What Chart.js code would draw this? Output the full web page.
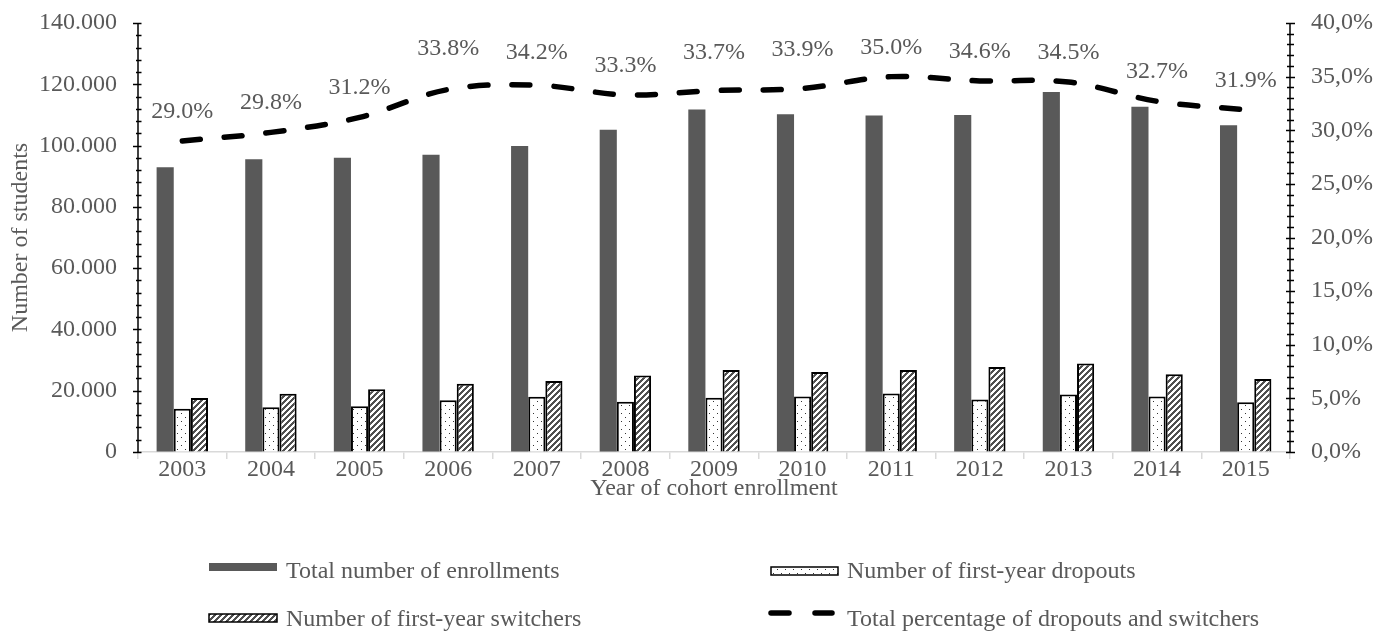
<!DOCTYPE html>
<html>
<head>
<meta charset="utf-8">
<script src="https://cdn.jsdelivr.net/npm/chart.js@4.4.1/dist/chart.umd.min.js"></script>
<style>
html,body{margin:0;padding:0;background:#fff;}
#wrap{width:1384px;height:635px;position:relative;}
</style>
</head>
<body>
<div id="wrap"><canvas id="c" width="1384" height="635"></canvas></div>
<script>
const years = ['2003','2004','2005','2006','2007','2008','2009','2010','2011','2012','2013','2014','2015'];
const enrollments = [92900, 95500, 96000, 97000, 99900, 105200, 111800, 110200, 109800, 110000, 117500, 112700, 106600];
const dropouts = [14100, 14600, 14900, 16900, 18000, 16400, 17700, 18100, 19100, 17100, 18800, 18100, 16200];
const switchers = [17600, 19000, 20500, 22300, 23200, 25000, 26800, 26100, 26800, 27700, 28900, 25400, 23800];
const percentages = [29.0, 29.8, 31.2, 33.8, 34.2, 33.3, 33.7, 33.9, 35.0, 34.6, 34.5, 32.7, 31.9];
const leftTicks = [0, 20000, 40000, 60000, 80000, 100000, 120000, 140000];
const rightTicks = [0, 5, 10, 15, 20, 25, 30, 35, 40];
const seriesNames = ['Total number of enrollments', 'Number of first-year dropouts', 'Number of first-year switchers', 'Total percentage of dropouts and switchers'];

const FONT = "'Liberation Serif', 'Times New Roman', serif";
const TXT = '#595959';
const FS = 24;

function makeDots() {
  const c = document.createElement('canvas'); c.width = 8; c.height = 8;
  const x = c.getContext('2d');
  x.fillStyle = '#fff'; x.fillRect(0,0,8,8);
  x.fillStyle = '#333';
  x.fillRect(1,1,1,1); x.fillRect(5,5,1,1);
  return x.createPattern(c, 'repeat');
}
function makeStripes() {
  const n = 6;
  const c = document.createElement('canvas'); c.width = n; c.height = n;
  const x = c.getContext('2d');
  const img = x.createImageData(n, n);
  for (let yy = 0; yy < n; yy++) for (let xx = 0; xx < n; xx++) {
    const d = ((xx + yy) % n) < 3;
    const i = (yy*n + xx)*4;
    const v = d ? 0x50 : 0xff;
    img.data[i]=v; img.data[i+1]=v; img.data[i+2]=v; img.data[i+3]=255;
  }
  x.putImageData(img, 0, 0);
  return x.createPattern(c, 'repeat');
}
const dotPat = makeDots();
const stripePat = makeStripes();

function fmtThousands(v) {
  if (v === 0) return '0';
  const k = Math.floor(v / 1000);
  const r = String(v % 1000).padStart(3, '0');
  return k + '.' + r;
}

const axesPlugin = {
  id: 'axesPlugin',
  afterDatasetsDraw(chart, args, opts) {
    const ctx = chart.ctx;
    const ca = chart.chartArea;
    const y = chart.scales.y, y1 = chart.scales.y1;
    ctx.save();
    ctx.strokeStyle = '#000';
    ctx.lineWidth = 1.5;
    ctx.beginPath();
    ctx.moveTo(ca.left, y.getPixelForValue(140000)); ctx.lineTo(ca.left, y.getPixelForValue(0));
    ctx.stroke();
    for (let v = 0; v <= 140000; v += 4000) {
      const p = Math.round(y.getPixelForValue(v)) + 0.5;
      const major = v % 20000 === 0;
      ctx.beginPath();
      ctx.moveTo(ca.left - (major ? 5 : 2), p); ctx.lineTo(ca.left + 3.5, p);
      ctx.stroke();
    }
    ctx.beginPath();
    ctx.moveTo(ca.right, y1.getPixelForValue(40)); ctx.lineTo(ca.right, y1.getPixelForValue(0));
    ctx.stroke();
    for (let v = 0; v <= 40; v += 1) {
      const p = Math.round(y1.getPixelForValue(v)) + 0.5;
      const major = v % 5 === 0;
      ctx.beginPath();
      ctx.moveTo(ca.right - (major ? 4 : 3), p); ctx.lineTo(ca.right + (major ? 5 : 4), p);
      ctx.stroke();
    }
    const meta = chart.getDatasetMeta(3);
    const lift = opts.labelLift || [];
    ctx.fillStyle = TXT;
    ctx.font = FS + 'px ' + FONT;
    ctx.textAlign = 'center';
    ctx.textBaseline = 'alphabetic';
    meta.data.forEach((pt, i) => {
      ctx.fillText(percentages[i].toFixed(1) + '%', pt.x, pt.y - 23 - (lift[i] || 0));
    });
    ctx.restore();
  },
  afterDraw(chart) {
    const ctx = chart.ctx;
    ctx.save();
    ctx.font = FS + 'px ' + FONT;
    ctx.textAlign = 'left';
    ctx.textBaseline = 'alphabetic';
    ctx.fillStyle = '#595959';
    ctx.fillRect(209, 563, 68, 8);
    ctx.fillStyle = dotPat; ctx.fillRect(771, 567, 67, 8);
    ctx.strokeStyle = '#000'; ctx.lineWidth = 1.5; ctx.strokeRect(771, 567, 67, 8);
    ctx.fillStyle = stripePat; ctx.fillRect(209, 614, 68, 8);
    ctx.strokeRect(209, 614, 68, 8);
    ctx.strokeStyle = '#000'; ctx.lineWidth = 5.5; ctx.lineCap = 'round';
    ctx.beginPath(); ctx.moveTo(771, 613); ctx.lineTo(789, 613); ctx.stroke();
    ctx.beginPath(); ctx.moveTo(815, 613); ctx.lineTo(832, 613); ctx.stroke();
    ctx.fillStyle = TXT;
    ctx.fillText(seriesNames[0], 286, 578);
    ctx.fillText(seriesNames[1], 847, 578);
    ctx.fillText(seriesNames[2], 286, 626);
    ctx.fillText(seriesNames[3], 847, 626);
    ctx.restore();
  }
};

const hiddenGrid = { display: true, drawOnChartArea: false, drawTicks: true, tickLength: 21, color: 'rgba(0,0,0,0)' };

new Chart(document.getElementById('c'), {
  data: {
    labels: years,
    datasets: [
      { type: 'bar', label: seriesNames[0], data: enrollments, backgroundColor: '#595959', borderWidth: 0, yAxisID: 'y', order: 1, categoryPercentage: 0.58, barPercentage: 1.0 },
      { type: 'bar', label: seriesNames[1], data: dropouts, backgroundColor: dotPat, borderColor: '#000', borderWidth: 2, yAxisID: 'y', order: 1, categoryPercentage: 0.58, barPercentage: 1.0 },
      { type: 'bar', label: seriesNames[2], data: switchers, backgroundColor: stripePat, borderColor: '#000', borderWidth: 2, yAxisID: 'y', order: 1, categoryPercentage: 0.58, barPercentage: 1.0 },
      { type: 'line', label: seriesNames[3], data: percentages, borderColor: '#000', borderWidth: 5.5, borderDash: [18, 24], borderCapStyle: 'round', tension: 0.35, pointRadius: 0, fill: false, yAxisID: 'y1', order: 0 }
    ]
  },
  options: {
    responsive: false,
    animation: false,
    devicePixelRatio: 1,
    layout: { padding: { top: 23, left: 0, right: 0, bottom: 100 } },
    plugins: {
      legend: { display: false },
      tooltip: { enabled: false },
      axesPlugin: { labelLift: [0, 0, 0, 11, 3, 0, 9, 9, 0, 0, 0, 0, 0] }
    },
    scales: {
      x: {
        offset: true,
        grid: { display: true, drawOnChartArea: false, drawTicks: true, tickLength: 7, color: '#d9d9d9', lineWidth: 1.5, offset: true },
        border: { display: true, color: '#d9d9d9', width: 1.5 },
        ticks: { color: TXT, font: { family: FONT, size: FS }, padding: -4, maxRotation: 0 },
        title: { display: true, text: 'Year of cohort enrollment', color: TXT, font: { family: FONT, size: FS }, padding: { top: 0, bottom: 32 } },
        afterFit(s) { s.height = 83; }
      },
      y: {
        position: 'left', min: 0, max: 140000,
        afterBuildTicks(s) { s.ticks = leftTicks.map(v => ({ value: v })); },
        grid: hiddenGrid,
        border: { display: false },
        ticks: { color: TXT, font: { family: FONT, size: FS }, padding: 0, callback: v => fmtThousands(v) },
        title: { display: true, text: 'Number of students', color: TXT, font: { family: FONT, size: FS }, padding: { top: 6, bottom: 0 } },
        afterFit(s) { s.width = 138; }
      },
      y1: {
        position: 'right', min: 0, max: 40,
        afterBuildTicks(s) { s.ticks = rightTicks.map(v => ({ value: v })); },
        grid: hiddenGrid,
        border: { display: false },
        ticks: { color: TXT, font: { family: FONT, size: FS }, padding: 0, callback: v => v.toFixed(1).replace('.', ',') + '%' },
        afterFit(s) { s.width = 94; }
      }
    }
  },
  plugins: [axesPlugin]
});
</script>
</body>
</html>
